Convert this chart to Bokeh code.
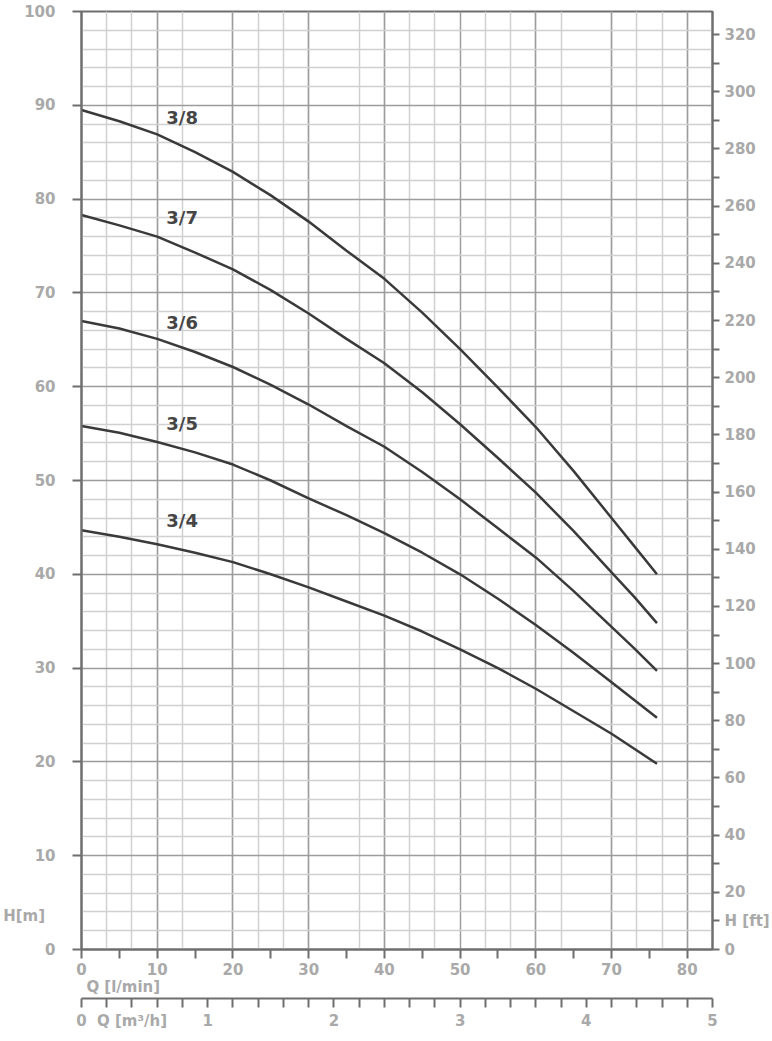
from bokeh.plotting import figure
from bokeh.models import Range1d, LinearAxis, FixedTicker, ColumnDataSource
from bokeh.core.properties import value
from bokeh.embed import file_html
from bokeh.resources import INLINE

# ---------------- data ----------------
q = [0, 5, 10, 15, 20, 25, 30, 35, 40, 45, 50, 55, 60, 65, 70, 73, 76]
h_3_8 = [89.5, 88.3, 86.9, 85.0, 82.9, 80.4, 77.6, 74.5, 71.5, 67.9, 64.0, 59.9, 55.7, 51.0, 46.0, 43.0, 40.0]
h_3_7 = [78.3, 77.2, 76.0, 74.3, 72.5, 70.3, 67.8, 65.1, 62.5, 59.4, 56.0, 52.4, 48.7, 44.6, 40.2, 37.6, 34.8]
h_3_6 = [67.0, 66.2, 65.1, 63.7, 62.1, 60.2, 58.1, 55.8, 53.6, 50.9, 48.0, 44.9, 41.8, 38.2, 34.4, 32.1, 29.7]
h_3_5 = [55.8, 55.1, 54.1, 53.0, 51.7, 50.0, 48.1, 46.3, 44.4, 42.3, 40.0, 37.4, 34.6, 31.6, 28.5, 26.6, 24.7]
h_3_4 = [44.7, 44.0, 43.2, 42.3, 41.3, 40.0, 38.6, 37.1, 35.6, 33.9, 32.0, 30.0, 27.8, 25.4, 23.0, 21.4, 19.8]
curves = [h_3_8, h_3_7, h_3_6, h_3_5, h_3_4]
curve_names = ["3/8", "3/7", "3/6", "3/5", "3/4"]
label_q = [11.2, 11.2, 11.2, 11.2, 11.2]
label_h = [88.7, 78.0, 66.8, 56.1, 45.7]

q_ticks = [0, 10, 20, 30, 40, 50, 60, 70, 80]
q_minor_ticks = [5, 15, 25, 35, 45, 55, 65, 75]
q_title = "\u00a0" * 16 + "Q [l/min]"
m3h_ticks = [0, 0.4, 1, 2, 3, 4, 5]
m3h_labels = {0.4: "Q [m\u00b3/h]"}
m3h_minor_ticks = [0.2, 0.6, 0.8, 1.2, 1.4, 1.6, 1.8, 2.2, 2.4, 2.6, 2.8,
                   3.2, 3.4, 3.6, 3.8, 4.2, 4.4, 4.6, 4.8]
m3h_grid = [0.2, 0.4, 0.6, 0.8, 1.2, 1.4, 1.6, 1.8, 2.2, 2.4, 2.6, 2.8,
            3.2, 3.4, 3.6, 3.8, 4.2, 4.4, 4.6, 4.8]
h_ticks = [0, 10, 20, 30, 40, 50, 60, 70, 80, 90, 100]
h_label_ticks = [0, 3.6, 10, 20, 30, 40, 50, 60, 70, 80, 90, 100]
h_labels = {3.6: "H[m]\u00a0\u00a0"}
h_minor_grid = [2, 4, 6, 8, 12, 14, 16, 18, 22, 24, 26, 28, 32, 34, 36, 38, 42, 44, 46, 48,
                52, 54, 56, 58, 62, 64, 66, 68, 72, 74, 76, 78, 82, 84, 86, 88, 92, 94, 96, 98]
ft_ticks = [0, 10, 20, 40, 60, 80, 100, 120, 140, 160, 180, 200, 220, 240, 260, 280, 300, 320]
ft_labels = {10: "H [ft]"}
ft_minor_ticks = [30, 50, 70, 90, 110, 130, 150, 170, 190, 210, 230, 250, 270, 290, 310]

Q_MAX_M3H = 5.0
Q_MAX = Q_MAX_M3H * 1000 / 60  # l/min
H_MAX = 100
FT_MAX = H_MAX / 0.3048

# --------------- styles ---------------
FONT = "DejaVu Sans"
TICK_COL = "#a9a9a9"
AXIS_COL = "#6e6e6e"
CURVE_COL = "#3a3a3a"

p = figure(width=772, height=1038, output_backend="svg", toolbar_location=None,
           x_range=Range1d(0, Q_MAX), y_range=Range1d(0, H_MAX),
           min_border_left=79, min_border_right=57, min_border_top=11, min_border_bottom=89,
           background_fill_color="white", border_fill_color="white")
p.outline_line_color = AXIS_COL
p.outline_line_width = 2

# grids
x_minor_grid = [v * 1000 / 60 for v in m3h_grid]
p.xgrid.ticker = FixedTicker(ticks=q_ticks, minor_ticks=x_minor_grid)
p.xgrid.grid_line_color = "#9c9c9c"
p.xgrid.grid_line_width = 1.5
p.xgrid.minor_grid_line_color = "#d0d0d0"
p.xgrid.minor_grid_line_width = 1.5
p.ygrid.ticker = FixedTicker(ticks=h_ticks, minor_ticks=h_minor_grid)
p.ygrid.grid_line_color = "#9c9c9c"
p.ygrid.grid_line_width = 1.5
p.ygrid.minor_grid_line_color = "#d0d0d0"
p.ygrid.minor_grid_line_width = 1.5


def style_axis(ax, tick_out, standoff):
    ax.axis_line_color = AXIS_COL
    ax.axis_line_width = 2
    ax.major_tick_line_color = AXIS_COL
    ax.major_tick_line_width = 2
    ax.minor_tick_line_color = AXIS_COL
    ax.minor_tick_line_width = 2
    ax.major_tick_in = 0
    ax.major_tick_out = tick_out
    ax.minor_tick_in = 0
    ax.minor_tick_out = tick_out
    ax.major_label_text_font = FONT
    ax.major_label_text_font_style = "bold"
    ax.major_label_text_font_size = "15px"
    ax.major_label_text_color = TICK_COL
    ax.major_label_standoff = standoff


# left axis (m): tick marks drawn as minor ticks, labels (incl. H[m]) as majors
ya = p.yaxis[0]
ya.ticker = FixedTicker(ticks=h_label_ticks, minor_ticks=h_ticks)
style_axis(ya, 9, 8)
ya.major_tick_out = 0
ya.major_label_standoff = 17
ya.major_label_overrides = h_labels

# right axis (ft)
p.extra_y_ranges = {"ft": Range1d(0, FT_MAX)}
ra = LinearAxis(y_range_name="ft", ticker=FixedTicker(ticks=ft_ticks, minor_ticks=ft_minor_ticks))
style_axis(ra, 7, 5)
ra.major_label_overrides = ft_labels
p.add_layout(ra, "right")

# bottom axis (l/min) with its title at the left end
xa = p.xaxis[0]
xa.ticker = FixedTicker(ticks=q_ticks, minor_ticks=q_minor_ticks)
style_axis(xa, 9, 4)
xa.axis_label = q_title
xa.axis_label_text_font = FONT
xa.axis_label_text_font_style = "bold"
xa.axis_label_text_font_size = "15px"
xa.axis_label_text_color = TICK_COL
xa.axis_label_standoff = 0
if "axis_label_align" in xa.properties():
    xa.axis_label_align = "start"

# second bottom axis (m3/h)
p.extra_x_ranges = {"m3h": Range1d(0, Q_MAX_M3H)}
ba = LinearAxis(x_range_name="m3h", ticker=FixedTicker(ticks=m3h_ticks, minor_ticks=m3h_minor_ticks))
style_axis(ba, 9, 4)
ba.major_label_overrides = m3h_labels
p.add_layout(ba, "below")

# curves
for h in curves:
    p.line(q, h, line_color=CURVE_COL, line_width=2.5)

src = ColumnDataSource(dict(x=label_q, y=label_h, t=curve_names))
p.text(x="x", y="y", text="t", source=src, text_font=value(FONT), text_font_style="bold",
       text_font_size="18px", text_color="#454545", text_align="left", text_baseline="middle")

open("out.html", "w").write(file_html(p, INLINE))
